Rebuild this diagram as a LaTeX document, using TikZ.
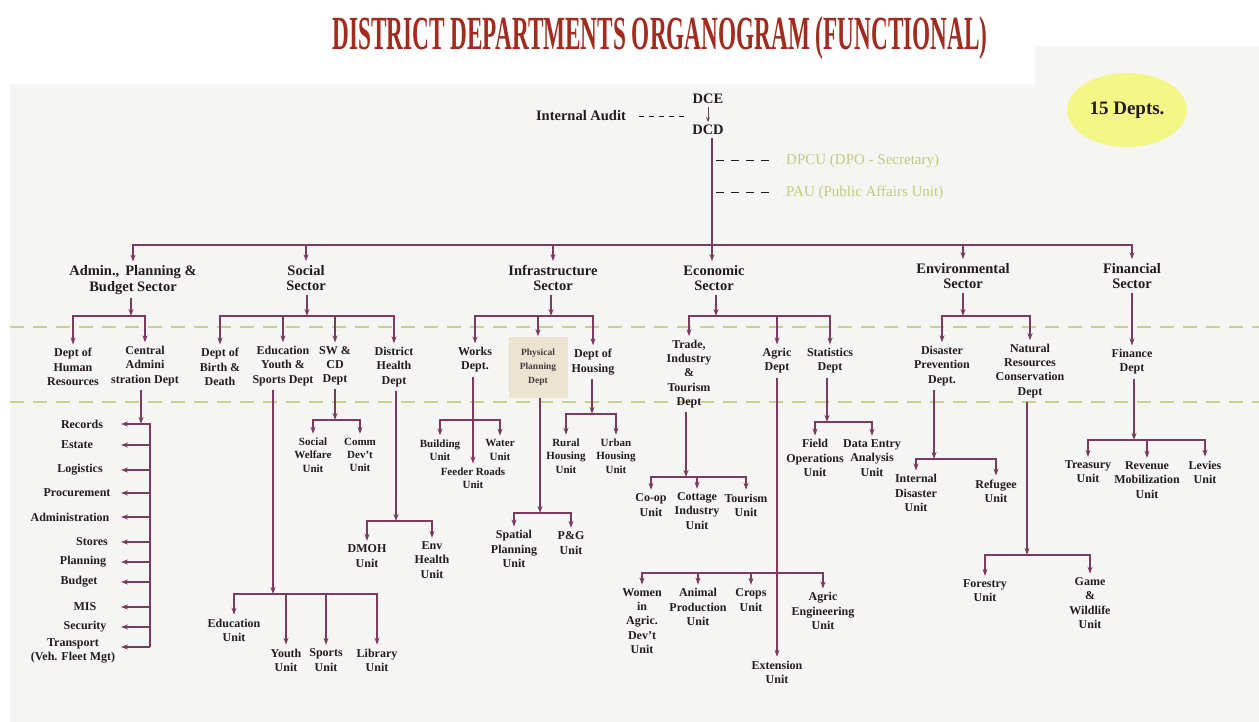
\documentclass[tikz,border=0pt]{standalone}
\usepackage{graphicx}
\usepackage{fontspec}
\setmainfont{Liberation Serif}
\usetikzlibrary{arrows.meta}
\definecolor{ln}{HTML}{7A3B5F}
\definecolor{txt}{HTML}{241A22}
\definecolor{ttl}{HTML}{A32A1C}
\definecolor{grn}{HTML}{C8D08A}
\definecolor{pale}{HTML}{C4CB78}
\definecolor{paper}{HTML}{F5F5F4}
\definecolor{blob}{HTML}{F3F785}
\definecolor{ppbox}{HTML}{ECE4D1}
\begin{document}
\begin{tikzpicture}[x=1pt,y=-1pt,
 lbl/.style={align=center,font=\bfseries\fontsize{12}{14.2}\selectfont,text=txt,inner sep=1pt,outer sep=3pt},
 small/.style={align=center,font=\bfseries\fontsize{11}{13.4}\selectfont,text=txt,inner sep=1pt,outer sep=3pt},
 sect/.style={align=center,font=\bfseries\fontsize{14.5}{15.5}\selectfont,text=txt,inner sep=1pt,outer sep=3pt},
 topl/.style={font=\bfseries\fontsize{14.5}{16}\selectfont,text=txt,inner sep=1pt,outer sep=2pt},
 palel/.style={font=\fontsize{15}{17}\selectfont,text=pale,inner sep=1pt,anchor=west},
 arr/.style={draw=ln,line width=1.2pt,-{Stealth[length=7pt,width=5pt]}},
 ln/.style={draw=ln,line width=1.2pt},
 hdash/.style={draw=txt,line width=1pt,dash pattern=on 8pt off 7pt},
 iadash/.style={draw=txt,line width=1pt,dash pattern=on 5pt off 5pt},
 grdash/.style={draw=grn,line width=1.2pt,dash pattern=on 14pt off 9pt}]
\useasboundingbox (0,0) rectangle (1259,722);
% paper
\fill[paper] (10,84) -- (1035,84) -- (1035,46) -- (1259,46) -- (1259,722) -- (10,722) -- cycle;
% title
\node[anchor=base,text=ttl,inner sep=0pt] (title) at (660,50) {\resizebox{655pt}{33pt}{\bfseries DISTRICT DEPARTMENTS ORGANOGRAM (FUNCTIONAL)}};
% blob
\fill[blob] (1127,110) ellipse [x radius=60pt, y radius=37pt];
\node[font=\bfseries\fontsize{19}{21}\selectfont,text=txt] (depts) at (1127,110) {15 Depts.};
% green dashed guide lines
\draw[grdash] (10,327) -- (1259,327);
\draw[grdash] (10,402) -- (1259,402);

% top
\node[topl] (dce) at (708,99) {DCE};
\node[topl] (dcd) at (708,130) {DCD};
\node[topl] (ia) at (581,116) {Internal Audit};
\draw[draw=ln,line width=1pt,-{Stealth[length=5pt,width=4pt]}] (dce) -- (dce |- dcd.north);
\coordinate (ia0) at (639,117);
\coordinate (iaend) at (689,117);
\draw[iadash] (ia0) -- (iaend);
\coordinate (bus) at (712,245);
\node[palel] (dpcu) at (785,161) {DPCU (DPO - Secretary)};
\node[palel] (pau) at (785,193) {PAU (Public Affairs Unit)};
\coordinate (dp0) at (716,161);
\coordinate (pa0) at (716,193);
\draw[hdash] (dp0) -- ([xshift=-9pt]dpcu.west);
\draw[hdash] (pa0) -- ([xshift=-9pt]pau.west);

% sectors
\node[sect] (admin) at (133,280) {Admin.,\, Planning \&\\Budget Sector};
\node[sect] (soc) at (306,278) {Social\\Sector};
\node[sect] (inf) at (553,278) {Infrastructure\\Sector};
\node[sect] (econ) at (714,278) {Economic\\Sector};
\node[sect] (env) at (963,276) {Environmental\\Sector};
\node[sect] (fin) at (1132,276) {Financial\\Sector};
\draw[arr] (dcd.south -| bus) -- (econ.north -| bus);
\draw[arr] (bus) -| (admin);
\draw[arr] (bus) -| (soc);
\draw[arr] (bus) -| (inf);
\draw[arr] (bus) -| (env);
\draw[arr] (bus) -| (fin);

% departments
\node[lbl] (hr) at (73,367) {Dept of\\Human\\Resources};
\node[lbl] (cad) at (145,366) {Central\\Admini\\stration Dept};
\node[lbl] (bd) at (220,367) {Dept of\\Birth \&\\Death};
\node[lbl] (eys) at (283,366) {Education\\Youth \&\\Sports Dept};
\node[lbl] (swcd) at (335,366) {SW \&\\CD\\Dept};
\node[lbl] (dhd) at (394,367) {District\\Health\\Dept};
\node[lbl] (works) at (475,360) {Works\\Dept.};
\node[fill=ppbox,minimum width=59pt,minimum height=61pt,inner sep=1pt,align=center,font=\bfseries\fontsize{9.5}{14}\selectfont,text=txt!85] (ppd) at (538,367) {Physical\\Planning\\Dept};
\node[lbl] (hous) at (593,362) {Dept of\\Housing};
\node[lbl] (trade) at (689,374) {Trade,\\Industry\\\&\\Tourism\\Dept};
\node[lbl] (agric) at (777,361) {Agric\\Dept};
\node[lbl] (stat) at (830,361) {Statistics\\Dept};
\node[lbl] (dis) at (942,366) {Disaster\\Prevention\\Dept.};
\node[lbl] (nrc) at (1030,371) {Natural\\Resources\\Conservation\\Dept};
\node[lbl] (findept) at (1132,362) {Finance\\Dept};

% sector -> departments
\coordinate (adb) at (131,316);
\draw[arr] (admin.south -| adb) -- (adb);
\draw[arr] (adb) -| (hr);
\draw[arr] (adb) -| (cad);
\coordinate (socb) at (307,316);
\draw[arr] (soc.south -| socb) -- (socb);
\draw[arr] (socb) -| (bd);
\draw[arr] (socb) -| (eys);
\draw[arr] (socb) -| (swcd);
\draw[arr] (socb) -| (dhd);
\coordinate (infb) at (551,316);
\draw[arr] (inf.south -| infb) -- (infb);
\draw[arr] (infb) -| (works);
\draw[arr] (infb) -| (ppd);
\draw[arr] (infb) -| (hous);
\coordinate (ecb) at (716,316);
\draw[arr] (econ.south -| ecb) -- (ecb);
\draw[arr] (ecb) -| (trade);
\draw[arr] (ecb) -| (agric);
\draw[arr] (ecb) -| (stat);
\coordinate (envb) at (963,316);
\draw[arr] (env.south -| envb) -- (envb);
\draw[arr] (envb) -| (dis);
\draw[arr] (envb) -| (nrc);
\draw[arr] (fin) -- (findept);

% Central administration units
\node[lbl] (rec) at (82,424) {Records};
\node[lbl] (est) at (77,445) {Estate};
\node[lbl] (logi) at (80,470) {Logistics};
\node[lbl] (proc) at (77,493) {Procurement};
\node[lbl] (adm) at (70,517) {Administration};
\node[lbl] (sto) at (92,542) {Stores};
\node[lbl] (pla) at (83,562) {Planning};
\node[lbl] (bud) at (79,582) {Budget};
\node[lbl] (mis) at (85,607) {MIS};
\node[lbl] (secu) at (85,627) {Security};
\node[lbl] (trn) at (73,651) {Transport\\(Veh. Fleet Mgt)};
\coordinate (caj) at (141,424);
\coordinate (cat) at (150,424);
\coordinate (cabot) at (150,647);
\coordinate (catip) at (121,424);
\draw[arr] (cad.south -| caj) -- (caj);
\draw[ln] (caj) -- (cat) -- (cabot);
\draw[arr] (cat) -- (catip);
\draw[arr] (cat |- est) -- (catip |- est);
\draw[arr] (cat |- logi) -- (catip |- logi);
\draw[arr] (cat |- proc) -- (catip |- proc);
\draw[arr] (cat |- adm) -- (catip |- adm);
\draw[arr] (cat |- sto) -- (catip |- sto);
\draw[arr] (cat |- pla) -- (catip |- pla);
\draw[arr] (cat |- bud) -- (catip |- bud);
\draw[arr] (cat |- mis) -- (catip |- mis);
\draw[arr] (cat |- secu) -- (catip |- secu);
\draw[arr] (cabot) -- (catip |- cabot);

% Education, Youth & Sports units
\node[lbl] (edu) at (234,630) {Education\\Unit};
\node[lbl] (youth) at (286,660) {Youth\\Unit};
\node[lbl] (sports) at (326,660) {Sports\\Unit};
\node[lbl] (lib) at (377,660) {Library\\Unit};
\coordinate (eysb) at (273,594);
\draw[arr] (eys.south -| eysb) -- (eysb);
\draw[arr] (eysb) -| (edu);
\draw[arr] (eysb) -| (youth);
\draw[arr] (eysb) -| (sports);
\draw[arr] (eysb) -| (lib);

% SW & CD units
\node[small] (sw) at (313,455) {Social\\Welfare\\Unit};
\node[small] (comm) at (360,455) {Comm\\Dev't\\Unit};
\coordinate (swb) at (335,420);
\draw[arr] (swcd.south -| swb) -- (swb);
\draw[arr] (swb) -| (sw);
\draw[arr] (swb) -| (comm);

% District Health units
\node[lbl] (dmoh) at (367,556) {DMOH\\Unit};
\node[lbl] (envh) at (432,560) {Env\\Health\\Unit};
\coordinate (dhb) at (396,521);
\draw[arr] (dhd.south -| dhb) -- (dhb);
\draw[arr] (dhb) -| (dmoh);
\draw[arr] (dhb) -| (envh);

% Works units
\node[small] (build) at (440,450) {Building\\Unit};
\node[small] (water) at (500,450) {Water\\Unit};
\node[small] (feeder) at (473,478) {Feeder Roads\\Unit};
\coordinate (wb) at (473,420);
\draw[arr] (works.south -| feeder) -- (feeder);
\draw[arr] (wb) -| (build);
\draw[arr] (wb) -| (water);

% Physical planning units
\node[lbl] (spat) at (514,549) {Spatial\\Planning\\Unit};
\node[lbl] (pg) at (571,543) {P\&G\\Unit};
\coordinate (ppb) at (540,513);
\draw[arr] (ppd.south -| ppb) -- (ppb);
\draw[arr] (ppb) -| (spat);
\draw[arr] (ppb) -| (pg);

% Housing units
\node[small] (rural) at (566,456) {Rural\\Housing\\Unit};
\node[small] (urban) at (616,456) {Urban\\Housing\\Unit};
\coordinate (hob) at (592,414);
\draw[arr] (hous.south -| hob) -- (hob);
\draw[arr] (hob) -| (rural);
\draw[arr] (hob) -| (urban);

% Trade units
\node[lbl] (coop) at (651,505) {Co-op\\Unit};
\node[lbl] (cott) at (697,511) {Cottage\\Industry\\Unit};
\node[lbl] (tour) at (746,505) {Tourism\\Unit};
\coordinate (trb) at (686,477);
\draw[arr] (trade.south -| trb) -- (trb);
\draw[arr] (trb) -| (coop);
\draw[arr] (trb) -| (cott);
\draw[arr] (trb) -| (tour);

% Agric units
\node[lbl] (women) at (642,621) {Women\\in\\Agric.\\Dev't\\Unit};
\node[lbl] (animal) at (698,607) {Animal\\Production\\Unit};
\node[lbl] (crops) at (751,600) {Crops\\Unit};
\node[lbl] (agreng) at (823,611) {Agric\\Engineering\\Unit};
\node[lbl] (ext) at (777,672) {Extension\\Unit};
\coordinate (agb) at (777,573);
\draw[arr] (agric) -- (ext);
\draw[arr] (agb) -| (women);
\draw[arr] (agb) -| (animal);
\draw[arr] (agb) -| (crops);
\draw[arr] (agb) -| (agreng);

% Statistics units
\node[lbl] (field) at (815,458) {Field\\Operations\\Unit};
\node[lbl] (dea) at (872,458) {Data Entry\\Analysis\\Unit};
\coordinate (stb) at (827,422);
\draw[arr] (stat.south -| stb) -- (stb);
\draw[arr] (stb) -| (field);
\draw[arr] (stb) -| (dea);

% Disaster units
\node[lbl] (intd) at (916,493) {Internal\\Disaster\\Unit};
\node[lbl] (refu) at (996,491) {Refugee\\Unit};
\coordinate (disb) at (934,459);
\draw[arr] (dis.south -| disb) -- (disb);
\draw[arr] (disb) -| (intd);
\draw[arr] (disb) -| (refu);

% Natural resources units
\node[lbl] (forest) at (985,591) {Forestry\\Unit};
\node[lbl] (game) at (1090,603) {Game\\\&\\Wildlife\\Unit};
\coordinate (nrb) at (1027,555);
\draw[arr] (nrc.south -| nrb) -- (nrb);
\draw[arr] (nrb) -| (forest);
\draw[arr] (nrb) -| (game);

% Finance units
\node[lbl] (treas) at (1088,472) {Treasury\\Unit};
\node[lbl] (rev) at (1147,480) {Revenue\\Mobilization\\Unit};
\node[lbl] (lev) at (1205,472) {Levies\\Unit};
\coordinate (fib) at (1134,440);
\draw[arr] (findept.south -| fib) -- (fib);
\draw[arr] (fib) -| (treas);
\draw[arr] (fib) -| (rev);
\draw[arr] (fib) -| (lev);
\end{tikzpicture}
\end{document}
